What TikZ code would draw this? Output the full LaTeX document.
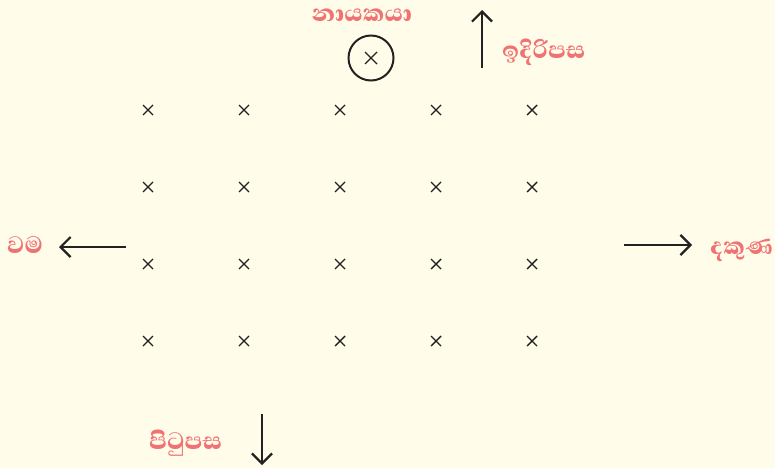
\documentclass[tikz,border=0pt]{standalone}
\usepackage{fontspec}
\usetikzlibrary{arrows.meta}
\newfontfamily\sinfont[Script=Sinhala,BoldFont={Abhaya Libre ExtraBold}]{Abhaya Libre}
\definecolor{bgc}{HTML}{FFFCEA}
\definecolor{lbl}{HTML}{F07272}
\definecolor{ink}{HTML}{222222}
\begin{document}
\begin{tikzpicture}[x=1pt,y=-1pt,
  lab/.style={text=lbl,font=\sinfont\bfseries\fontsize{30.5}{33}\selectfont,inner sep=0pt},
  dirarrow/.style={draw=ink,line width=2.2pt,-{Straight Barb[length=10pt,width=20pt,line width=2.2pt]}},
  xmark/.style={draw=ink,line width=1.4pt}]
\fill[bgc] (0,0) rectangle (775,468);
\useasboundingbox (0,0) rectangle (775,468);
% grid of members
\foreach \c in {148,244,340,436,532}{
  \foreach \r in {110,187,264,341}{
    \draw[xmark] (\c-5,\r-5) -- (\c+5,\r+5) (\c-5,\r+5) -- (\c+5,\r-5);
  }
}
% leader
\node[draw=ink,line width=2pt,circle,minimum size=45pt,inner sep=0pt] (leader) at (371,58) {};
\draw[xmark] (371-6,58-6) -- (371+6,58+6) (371-6,58+6) -- (371+6,58-6);
\node[lab] (leaderlbl) at (362,15) {නායකයා};
% front
\coordinate (fs) at (482,68);
\coordinate (fe) at (482,10);
\draw[dirarrow] (fs) -- (fe);
\node[lab,anchor=west] (front) at (502,52) {ඉදිරිපස};
% left
\coordinate (ls) at (126,247);
\coordinate (le) at (59,247);
\draw[dirarrow] (ls) -- (le);
\node[lab,anchor=west] (left) at (7,245) {වම};
% right
\coordinate (rs) at (624,245);
\coordinate (re) at (692,245);
\draw[dirarrow] (rs) -- (re);
\node[lab,anchor=west] (right) at (710,250) {දකුණ};
% back
\coordinate (bs) at (262,414);
\coordinate (be) at (262,465);
\draw[dirarrow] (bs) -- (be);
\node[lab,anchor=west] (back) at (149,443) {පිටුපස};
\end{tikzpicture}
\end{document}
